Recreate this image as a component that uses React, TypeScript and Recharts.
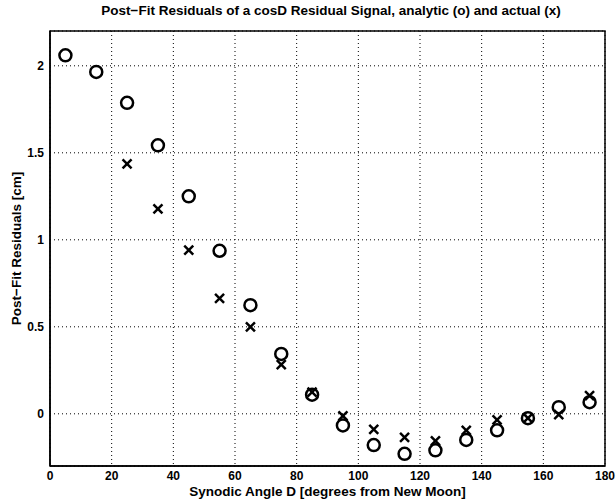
import {
  ScatterChart,
  Scatter,
  XAxis,
  YAxis,
  CartesianGrid,
  ReferenceArea,
} from "recharts";

const angles = [5, 15, 25, 35, 45, 55, 65, 75, 85, 95, 105, 115, 125, 135, 145, 155, 165, 175];
const analytic = [
  2.06, 1.965, 1.787, 1.543, 1.25, 0.937, 0.624, 0.344, 0.11, -0.067, -0.18, -0.23, -0.21,
  -0.15, -0.095, -0.025, 0.038, 0.067,
];
const actualAngles = [25, 35, 45, 55, 65, 75, 85, 95, 105, 115, 125, 135, 145, 155, 165, 175];
const actual = [
  1.437, 1.178, 0.941, 0.664, 0.5, 0.283, 0.125, -0.012, -0.09, -0.135, -0.155, -0.095,
  -0.035, -0.025, -0.005, 0.105,
];
const xTicks = [0, 20, 40, 60, 80, 100, 120, 140, 160, 180];
const yTicks = [0, 0.5, 1, 1.5, 2];

const analyticData = angles.map((d, i) => ({ d, r: analytic[i] }));
const actualData = actualAngles.map((d, i) => ({ d, r: actual[i] }));

const FONT = "'Liberation Sans', Arial, sans-serif";
const tickStyle = { fill: "#000", fontSize: 12, fontWeight: 700, fontFamily: FONT };
const labelStyle = { ...tickStyle, fontSize: 13.5 };

// open circle marker, like matlab 'o'
function Ring(props: any) {
  const { cx, cy } = props;
  if (cx == null || cy == null) return null;
  return <circle cx={cx} cy={cy} r={6} fill="none" stroke="#000" strokeWidth={2.5} />;
}

// cross marker, like matlab 'x'
function Cross(props: any) {
  const { cx, cy } = props;
  if (cx == null || cy == null) return null;
  const s = 4.5;
  return (
    <g stroke="#000" strokeWidth={2.5}>
      <line x1={cx - s} y1={cy - s} x2={cx + s} y2={cy + s} />
      <line x1={cx - s} y1={cy + s} x2={cx + s} y2={cy - s} />
    </g>
  );
}

export default function App() {
  return (
    <div
      style={{
        position: "absolute",
        left: 0,
        top: 0,
        width: 616,
        height: 504,
        background: "#fff",
        fontFamily: FONT,
      }}
    >
      <div
        style={{
          position: "absolute",
          top: 3,
          left: 50,
          width: 562,
          textAlign: "center",
          fontSize: 13.5,
          fontWeight: 700,
          color: "#000",
        }}
      >
        Post−Fit Residuals of a cosD Residual Signal, analytic (o) and actual (x)
      </div>
      <ScatterChart width={616} height={504} margin={{ top: 31, right: 11, left: 0, bottom: 0 }}>
        <CartesianGrid stroke="#000" strokeDasharray="1 3" strokeWidth={1} />
        <XAxis
          type="number"
          dataKey="d"
          domain={[0, 180]}
          ticks={xTicks}
          interval={0}
          allowDataOverflow
          height={38}
          tick={tickStyle}
          tickLine={false}
          tickSize={3}
          axisLine={{ stroke: "#000", strokeWidth: 1.5 }}
          label={{
            value: "Synodic Angle D [degrees from New Moon]",
            position: "insideBottom",
            offset: 8,
            style: labelStyle,
          }}
        />
        <YAxis
          type="number"
          dataKey="r"
          domain={[-0.3, 2.2]}
          ticks={yTicks}
          interval={0}
          allowDataOverflow
          width={50}
          tick={tickStyle}
          tickLine={false}
          tickSize={4}
          axisLine={{ stroke: "#000", strokeWidth: 1.5 }}
          label={{
            value: "Post−Fit Residuals [cm]",
            angle: -90,
            position: "insideLeft",
            offset: 16,
            style: { ...labelStyle, textAnchor: "middle" },
          }}
        />
        <ReferenceArea
          x1={0}
          x2={180}
          y1={-0.3}
          y2={2.2}
          fill="none"
          fillOpacity={0}
          stroke="#000"
          strokeWidth={1.5}
          ifOverflow="visible"
        />
        <Scatter data={analyticData} shape={<Ring />} isAnimationActive={false} />
        <Scatter data={actualData} shape={<Cross />} isAnimationActive={false} />
      </ScatterChart>
    </div>
  );
}
